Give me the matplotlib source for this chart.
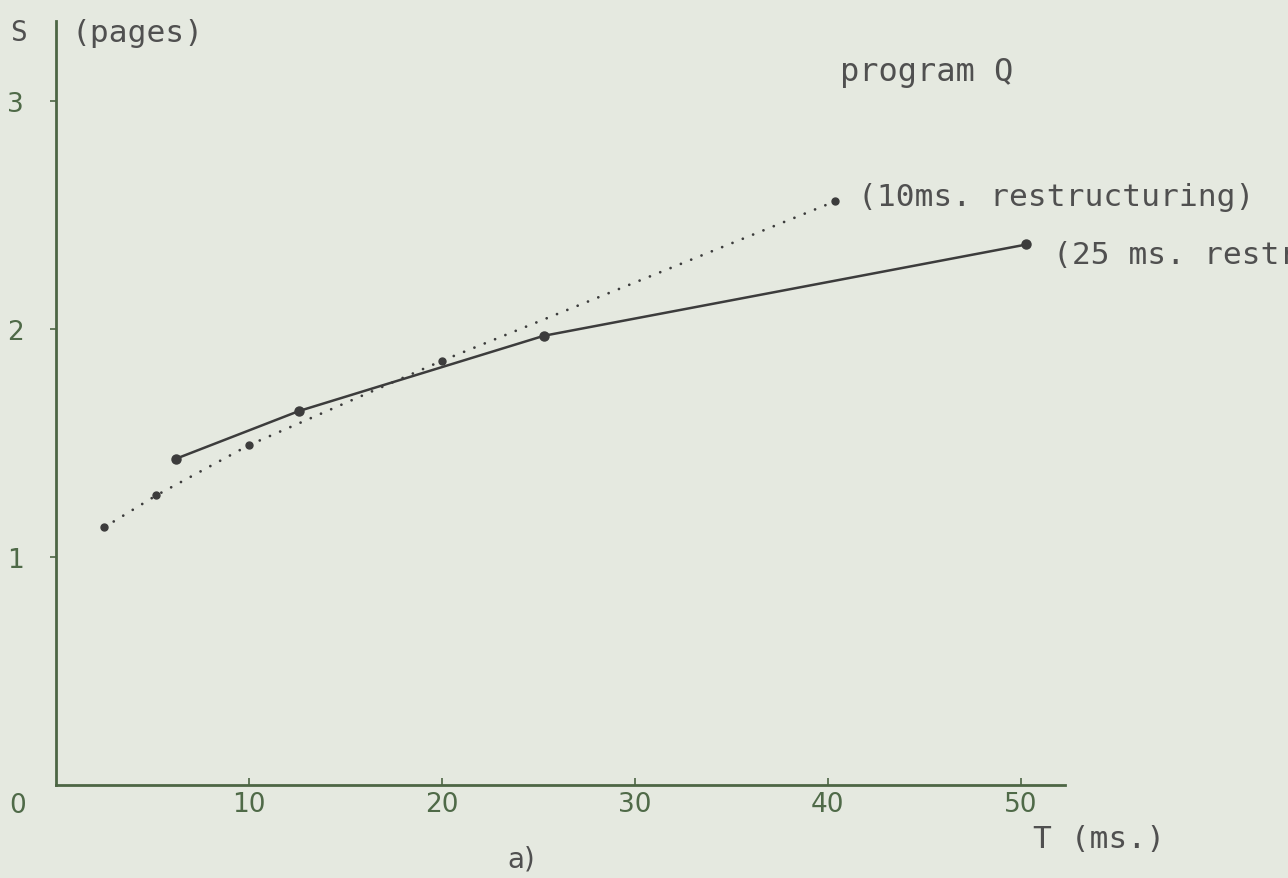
import matplotlib
matplotlib.use("Agg")
import matplotlib.pyplot as plt

# Data
t_25ms = [6.2, 12.6, 25.3, 50.3]
s_25ms = [1.43, 1.64, 1.97, 2.37]
t_10ms = [2.5, 5.2, 10.0, 20.0, 40.4]
s_10ms = [1.13, 1.27, 1.49, 1.86, 2.56]
x_ticks = [10, 20, 30, 40, 50]
y_ticks = [1, 2, 3]

bg = '#e5e9e0'
axis_col = '#4d6645'
line_col = '#3c3c3c'
text_col = '#505050'
digit_col = '#4f6a48'

fig = plt.figure(figsize=(12.88, 8.79), dpi=100, facecolor=bg)
ax = fig.add_axes([56/1288, 93/879, 1009/1288, 764/879])
ax.set_facecolor(bg)
ax.set_xlim(0, 52.3)
ax.set_ylim(0, 3.35)

for side in ['top', 'right']:
    ax.spines[side].set_visible(False)
for side in ['left', 'bottom']:
    ax.spines[side].set_color(axis_col)
    ax.spines[side].set_linewidth(2.0)

ax.set_xticks(x_ticks)
ax.set_xticklabels([str(v) for v in x_ticks])
ax.set_yticks(y_ticks)
ax.set_yticklabels([str(v) for v in y_ticks])
ax.tick_params(axis='x', direction='in', length=5, width=1.2, color=axis_col,
               labelsize=19, labelcolor=digit_col, pad=4)
ax.tick_params(axis='y', direction='out', length=4, width=1.2, color=axis_col,
               labelsize=19, labelcolor=digit_col, pad=19)
for lab in ax.get_xticklabels() + ax.get_yticklabels():
    lab.set_family('DejaVu Sans')

# 10 ms restructuring (dotted)
ax.plot(t_10ms, s_10ms, color=line_col, linestyle=(0, (0.01, 4.0)),
        linewidth=2.0, dash_capstyle='round', marker='o', markersize=5,
        markerfacecolor=line_col, markeredgecolor=line_col, clip_on=False)
# 25 ms restructuring (solid)
ax.plot(t_25ms, s_25ms, color=line_col, linestyle='-', linewidth=1.8,
        marker='o', markersize=6.5, markerfacecolor=line_col,
        markeredgecolor=line_col, clip_on=False)

mono = 'DejaVu Sans Mono'
def ftext(x, y, s, **kw):
    fig.text(x/1288, 1 - y/879, s, **kw)

ftext(18, 33, 'S', fontsize=20, family=mono, color=text_col, ha='center', va='center')
ftext(72, 33, '(pages)', fontsize=22.5, family=mono, color=text_col, ha='left', va='center')
ftext(840, 73, 'program Q', fontsize=23, family=mono, color=text_col, ha='left', va='center')
ftext(858, 197, '(10ms. restructuring)', fontsize=22.5, family=mono, color=text_col,
      ha='left', va='center')
ftext(1053, 256, '(25 ms. restructuring)', fontsize=22.5, family=mono, color=text_col,
      ha='left', va='center')
ftext(1033, 840, 'T (ms.)', fontsize=22.5, family=mono, color=text_col, ha='left', va='center')
ftext(521, 860, 'a)', fontsize=20, family='DejaVu Sans', color=text_col, ha='center', va='center')
ftext(18, 806, '0', fontsize=19, family='DejaVu Sans', color=digit_col, ha='center', va='center')

fig.savefig('out.png', dpi=100, facecolor=bg)
